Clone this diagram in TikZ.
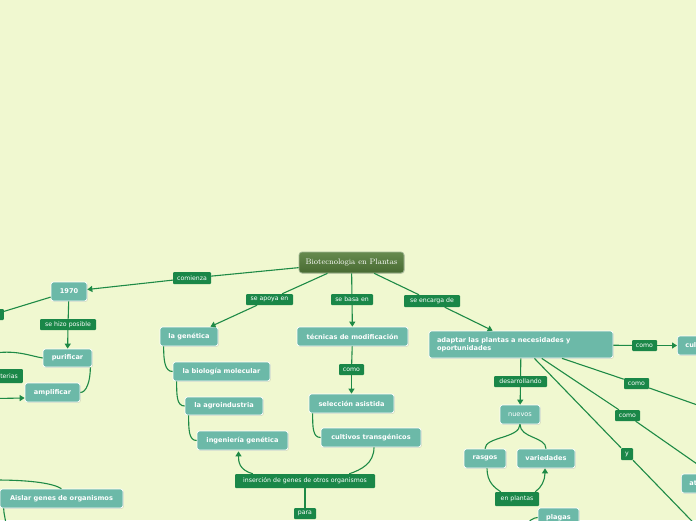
\documentclass[tikz,border=0pt]{standalone}
\usepackage{fontspec}
\newfontfamily\dvs{DejaVu Sans}
\usetikzlibrary{arrows.meta,shadows,calc}
\definecolor{bgc}{RGB}{240,248,208}
\definecolor{tealn}{RGB}{108,185,168}
\definecolor{labg}{RGB}{26,135,72}
\definecolor{lineg}{RGB}{30,138,70}
\definecolor{roottop}{RGB}{102,138,78}
\definecolor{rootbot}{RGB}{72,106,50}
\tikzset{
  topic/.style={draw=white, line width=0.7pt, fill=tealn, rounded corners=2.5pt, text=white,
    font=\dvs\bfseries\fontsize{6.6}{8}\selectfont, minimum height=19pt, inner sep=0pt,
    drop shadow={shadow xshift=0.8pt,shadow yshift=-0.8pt,opacity=0.25}},
  plain/.style={topic, font=\dvs\fontsize{6.6}{8}\selectfont},
  lab/.style={fill=labg, rounded corners=1pt, text=white, font=\dvs\fontsize{6.2}{7}\selectfont,
    minimum height=11pt, inner xsep=2pt, inner ysep=0pt},
  con/.style={draw=lineg, line width=1.1pt},
  arr/.style={con, -{Triangle[length=5pt,width=6pt]}},
}
\begin{document}
\begin{tikzpicture}[x=1pt,y=-1pt]
\fill[bgc] (0,0) rectangle (696,520);
\useasboundingbox (0,0) rectangle (696,520);
\clip (0,0) rectangle (696,520);

% root
\node[draw=roottop!60!white, line width=0.7pt, top color=roottop, bottom color=rootbot, rounded corners=3pt,
  text=white, font=\fontsize{8}{9}\selectfont, minimum width=105pt, minimum height=21pt, inner sep=0pt,
  drop shadow={shadow xshift=0.8pt,shadow yshift=-0.8pt,opacity=0.25}]
  (root) at (351.5,262.5) {Biotecnologia en Plantas};

% left branch
\node[topic, minimum width=36pt] (n1970) at (69,291.5) {1970};
\node[topic, minimum width=49pt, minimum height=18pt] (purif) at (67.5,358) {purificar};
\node[topic, minimum width=55pt] (ampl) at (52.5,392.5) {amplificar};
\node[topic, minimum width=123pt] (aislar) at (61.5,498.5) {Aislar genes de organismos};

\node[lab, minimum width=38pt, minimum height=12pt] (comienza) at (192,278) {comienza};
\node[lab, minimum width=56pt] (sehizo) at (68,324.5) {se hizo posible};
\node[lab, minimum width=20pt, anchor=east] (lef1) at (4,314.5) {};
\node[lab, text width=31pt, align=right, inner xsep=5pt, minimum height=14pt, anchor=east] (bact) at (23,376) {terias};

\coordinate (pin) at (-5,353);
\coordinate (ain) at (-5,398.5);
\coordinate (atop) at (-5,480);
\coordinate (abot) at (6,526);

\draw[con] (root) -- (comienza);
\draw[arr] (comienza) -- (n1970);
\draw[con] (n1970) -- (lef1);
\draw[con] (n1970) -- (sehizo);
\draw[arr] (sehizo) -- (purif);
\draw[con] (pin) .. controls +(22,-3) and +(-12,-2) .. (purif.west);
\draw[con] ($(purif.south east)+(-2,0)$) .. controls +(0,14) and +(6,0) .. (ampl.east);
\draw[arr] (ain) -- ($(ampl.west)+(0,5.5)$);
\draw[con] (atop) .. controls +(38,0) and +(-8,-5) .. (aislar.north);
\draw[con] ($(aislar.south west)+(4,0)$) .. controls +(0,6) and +(0,-6) .. (abot);

% middle-left branch
\node[topic, minimum width=58pt] (gen) at (189,336.5) {la genética};
\node[topic, minimum width=97pt] (biomol) at (221.5,371.5) {la biología molecular};
\node[topic, minimum width=78pt, minimum height=18pt] (agro) at (224,406) {la agroindustria};
\node[topic, minimum width=91pt] (ing) at (242.5,440.5) {ingeniería genética};
\node[lab, minimum width=47pt] (seapoya) at (269.5,299.5) {se apoya en};

\draw[con] (root) -- (seapoya);
\draw[arr] (seapoya) -- (gen);
\draw[con] ($(gen.south west)+(4,0)$) .. controls +(0,14) and +(-8,0) .. (biomol.west);
\draw[con] ($(biomol.south west)+(4,0)$) .. controls +(0,14) and +(-8,0) .. (agro.west);
\draw[con] ($(agro.south west)+(4,0)$) .. controls +(0,14) and +(-8,0) .. (ing.west);

% middle branch
\node[topic, minimum width=111pt] (tec) at (352.5,336.5) {técnicas de modificación};
\node[topic, minimum width=85pt] (sel) at (351.5,403.5) {selección asistida};
\node[topic, minimum width=100pt] (cult) at (371,437.5) {cultivos transgénicos};
\node[lab, minimum width=42pt] (sebasa) at (352,299.5) {se basa en};
\node[lab, minimum width=25pt] (como1) at (351.5,369.5) {como};
\node[lab, minimum width=140pt, minimum height=14pt] (inser) at (305,481) {inserción de genes de otros organismos};
\node[lab, minimum width=22pt] (para) at (305,513.5) {para};

\draw[con] (root) -- (sebasa);
\draw[arr] (sebasa) -- (tec);
\draw[con] (tec) -- (como1);
\draw[arr] (como1) -- (sel);
\draw[con] ($(sel.south west)+(4,0)$) .. controls +(0,14) and +(-8,0) .. (cult.west);
\draw[arr] ($(inser.north west)+(18,0)$) .. controls +(-14,-4) and +(0,10) .. ($(ing.south)+(-4,1)$);
\draw[con] ($(cult.south)+(3,0)$) .. controls +(0,16) and +(12,-4) .. ($(inser.north east)+(-26,0)$);
\draw[con] (inser) -- (para);

% right branch
\node[topic, minimum width=184pt, minimum height=27pt, text width=168pt, inner xsep=8pt, align=left,
  font=\dvs\bfseries\fontsize{6.6}{8.5}\selectfont] (adapt) at (521,344.5)
  {adaptar las plantas a necesidades y\\oportunidades};
\node[topic, anchor=west, text width=40pt, inner xsep=8pt, align=left] (cul) at (677,345.5) {cul};
\node[topic, anchor=west, text width=40pt, inner xsep=8pt, align=left] (at) at (681,483.5) {at};
\node[plain, minimum width=40pt] (nuevos) at (520,414.5) {nuevos};
\node[topic, minimum width=42pt] (rasgos) at (485,458.5) {rasgos};
\node[topic, minimum width=58pt] (varied) at (546,458.5) {variedades};
\node[topic, minimum width=41pt] (plagas) at (558.5,517.5) {plagas};

\node[lab, minimum width=56pt, minimum height=12pt] (seenc) at (432,301) {se encarga de};
\node[lab, minimum width=25pt] (como2) at (644.5,345.5) {como};
\node[lab, minimum width=25pt] (como3) at (636.5,383.5) {como};
\node[lab, minimum width=25pt] (como4) at (627.5,415.5) {como};
\node[lab, minimum width=12pt, minimum height=12pt, inner xsep=0pt] (ylab) at (627,454) {y};
\node[lab, minimum width=53pt] (desarr) at (520.5,381.5) {desarrollando};
\node[lab, minimum width=44pt, minimum height=14pt] (enpl) at (517,499) {en plantas};

\coordinate (c3) at (720,413);
\coordinate (c4) at (720,480);
\coordinate (c5) at (716,546);
\coordinate (pin2) at (526,526);

\draw[con] (root) -- (seenc);
\draw[arr] (seenc) -- (adapt);
\draw[con] (adapt) -- (como2);
\draw[arr] (como2) -- (cul);
\draw[con] (adapt) -- (como3);
\draw[con] (como3) -- (c3);
\draw[con] (adapt) -- (como4);
\draw[con] (como4) -- (c4);
\draw[con] (adapt) -- (ylab);
\draw[con] (ylab) -- (c5);
\draw[con] (adapt) -- (desarr);
\draw[arr] (desarr) -- (nuevos);
\draw[con] (nuevos.south) .. controls +(0,14) and +(0,-12) .. (rasgos.north);
\draw[con] (nuevos.south) .. controls +(0,14) and +(0,-12) .. (varied.north);
\draw[con] ($(rasgos.south)+(2,0)$) .. controls +(0,14) and +(-6,-4) .. ($(enpl.north west)+(6,0)$);
\draw[arr] ($(enpl.north east)+(-4,0)$) .. controls +(6,-4) and +(0,12) .. ($(varied.south)+(-1,0)$);
\draw[con] (pin2) .. controls +(2,-5) and +(-4,0) .. (plagas.west);
\end{tikzpicture}
\end{document}
